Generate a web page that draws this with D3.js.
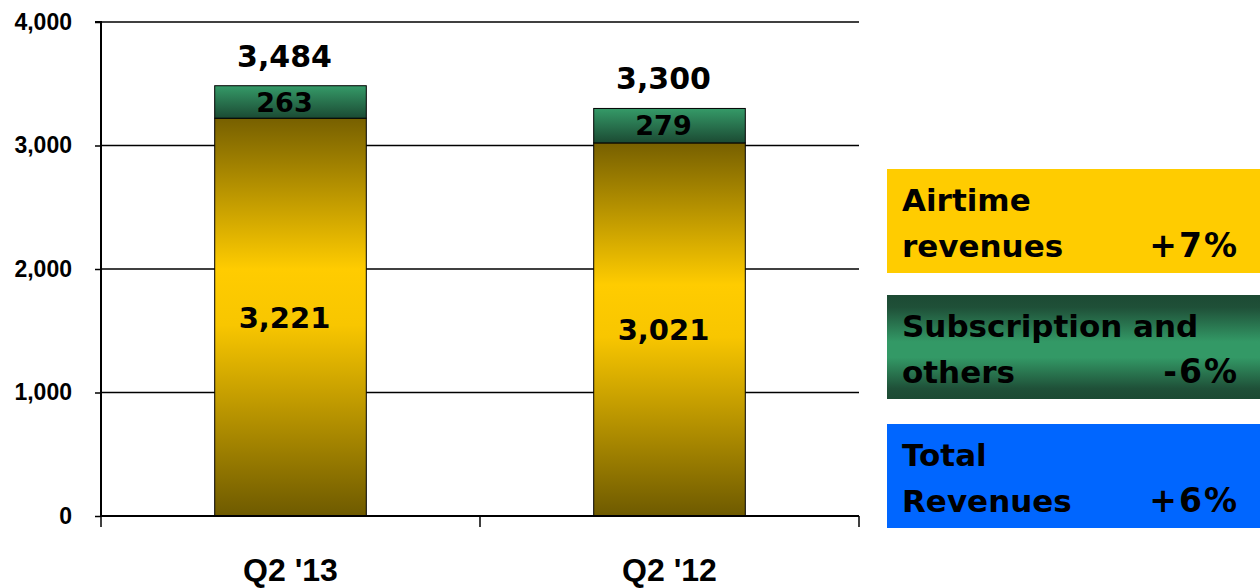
<!DOCTYPE html>
<html>
<head>
<meta charset="utf-8">
<script src="https://cdn.jsdelivr.net/npm/d3@7"></script>
<style>
  body { margin: 0; background: #fff; }
  svg { display: block; }
</style>
</head>
<body>
<svg></svg>
<script>
const categories = ["Q2 '13", "Q2 '12"];
const airtime = [3221, 3021];
const subscription = [263, 279];
const totals = [3484, 3300];
const yTicks = [0, 1000, 2000, 3000, 4000];
const legendLines = [["Airtime", "revenues"], ["Subscription and", "others"], ["Total", "Revenues"]];
const legendChanges = ["+7%", "-6%", "+6%"];

const width = 1260;
const height = 588;
const margin = { top: 22, right: 401, bottom: 72, left: 101 };

const svg = d3.select("svg")
    .attr("width", width)
    .attr("height", height);

const defs = svg.append("defs");

const gAir = defs.append("linearGradient")
    .attr("id", "gAir").attr("x1", 0).attr("y1", 0).attr("x2", 0).attr("y2", 1);
[[0, "#776000"], [0.38, "#ffcc00"], [0.52, "#f8c600"], [1, "#6e5a00"]]
    .forEach(s => gAir.append("stop").attr("offset", s[0]).attr("stop-color", s[1]));

const gSub = defs.append("linearGradient")
    .attr("id", "gSub").attr("x1", 0).attr("y1", 0).attr("x2", 0).attr("y2", 1);
[[0, "#359a68"], [1, "#1b4a33"]]
    .forEach(s => gSub.append("stop").attr("offset", s[0]).attr("stop-color", s[1]));

const gLeg = defs.append("linearGradient")
    .attr("id", "gLeg").attr("x1", 0).attr("y1", 0).attr("x2", 0).attr("y2", 1);
[[0, "#1c4a33"], [0.12, "#1f5038"], [0.45, "#339966"], [0.6, "#339966"], [0.9, "#1f5038"], [1, "#1c4a33"]]
    .forEach(s => gLeg.append("stop").attr("offset", s[0]).attr("stop-color", s[1]));

const x = d3.scaleBand()
    .domain(categories)
    .range([margin.left, width - margin.right])
    .paddingInner(0.6)
    .paddingOuter(0.3);

const y = d3.scaleLinear()
    .domain([0, 4000])
    .range([height - margin.bottom, margin.top]);

// gridlines
svg.append("g")
    .selectAll("line")
    .data(yTicks.filter(d => d > 0))
    .enter().append("line")
    .attr("x1", margin.left)
    .attr("x2", width - margin.right)
    .attr("y1", d => y(d))
    .attr("y2", d => y(d))
    .attr("stroke", "#000")
    .attr("stroke-width", 1.3);

// bars
const bars = svg.append("g");
bars.selectAll(".air")
    .data(categories)
    .enter().append("rect")
    .attr("x", d => x(d))
    .attr("width", x.bandwidth())
    .attr("y", (d, i) => y(airtime[i]))
    .attr("height", (d, i) => y(0) - y(airtime[i]))
    .attr("fill", "url(#gAir)")
    .attr("stroke", "#000")
    .attr("stroke-width", 1);

bars.selectAll(".sub")
    .data(categories)
    .enter().append("rect")
    .attr("x", d => x(d))
    .attr("width", x.bandwidth())
    .attr("y", (d, i) => y(airtime[i] + subscription[i]))
    .attr("height", (d, i) => y(airtime[i]) - y(airtime[i] + subscription[i]))
    .attr("fill", "url(#gSub)")
    .attr("stroke", "#000")
    .attr("stroke-width", 1);

// y axis
const yAxis = svg.append("g")
    .attr("transform", `translate(${margin.left},0)`)
    .call(d3.axisLeft(y).tickValues(yTicks).tickFormat(d3.format(",")).tickSize(6).tickPadding(23));
yAxis.select(".domain").attr("stroke-width", 2).attr("d", `M-6,${y(4000)}H0V${y(0)}`);
yAxis.selectAll(".tick line").attr("stroke-width", 1.5);
yAxis.selectAll("text")
    .attr("font-family", "'Liberation Sans', Arial, sans-serif")
    .attr("font-weight", "bold")
    .attr("font-size", 23)
    .attr("fill", "#000");

// x axis
const xAxis = svg.append("g")
    .attr("transform", `translate(0,${y(0)})`)
    .call(d3.axisBottom(x).tickSize(0).tickPadding(42));
xAxis.select(".domain").attr("stroke-width", 2).attr("d", `M${margin.left},0H${width - margin.right}`);
xAxis.selectAll("text")
    .attr("font-family", "'Liberation Sans', Arial, sans-serif")
    .attr("font-weight", "bold")
    .attr("font-size", 32)
    .attr("fill", "#000");

// category boundary ticks
const step = x.step();
const bounds = [margin.left, x(categories[1]) - x.paddingInner() * step / 2, width - margin.right];
xAxis.selectAll(".bound")
    .data(bounds)
    .enter().append("line")
    .attr("x1", d => d).attr("x2", d => d)
    .attr("y1", 0).attr("y2", 11)
    .attr("stroke", "#000")
    .attr("stroke-width", 1.5);

// labels
const labelFont = "'DejaVu Sans', Verdana, sans-serif";
const lx = d => x(d) + x.bandwidth() / 2 - 6;
const labels = svg.append("g")
    .attr("font-family", labelFont)
    .attr("font-weight", "bold")
    .attr("text-anchor", "middle")
    .attr("fill", "#000");

labels.selectAll(".tot")
    .data(categories)
    .enter().append("text")
    .attr("x", lx)
    .attr("y", (d, i) => y(totals[i]) - 19)
    .attr("font-size", 30)
    .text((d, i) => d3.format(",")(totals[i]));

labels.selectAll(".subv")
    .data(categories)
    .enter().append("text")
    .attr("x", lx)
    .attr("y", (d, i) => (y(airtime[i]) + y(airtime[i] + subscription[i])) / 2)
    .attr("dy", "0.36em")
    .attr("font-size", 27)
    .text((d, i) => d3.format(",")(subscription[i]));

labels.selectAll(".airv")
    .data(categories)
    .enter().append("text")
    .attr("x", lx)
    .attr("y", (d, i) => (y(0) + y(airtime[i])) / 2)
    .attr("dy", "0.36em")
    .attr("font-size", 29)
    .text((d, i) => d3.format(",")(airtime[i]));

// legend boxes
const legendFills = ["#ffcc00", "url(#gLeg)", "#0066ff"];
const boxY = [169, 295, 424];
const legend = svg.append("g");
legendLines.forEach((lines, i) => {
    const g = legend.append("g").attr("transform", `translate(887,${boxY[i]})`);
    g.append("rect")
        .attr("width", 373)
        .attr("height", 104)
        .attr("fill", legendFills[i]);
    g.selectAll("text.l")
        .data(lines)
        .enter().append("text")
        .attr("x", 15)
        .attr("y", (d, j) => 42 + j * 46)
        .attr("font-family", labelFont)
        .attr("font-weight", "bold")
        .attr("font-size", 31)
        .attr("fill", "#000")
        .text(d => d);
    g.append("text")
        .attr("x", 352)
        .attr("y", 88)
        .attr("text-anchor", "end")
        .attr("font-family", labelFont)
        .attr("font-weight", "bold")
        .attr("font-size", 33)
        .attr("letter-spacing", 2)
        .attr("fill", "#000")
        .text(legendChanges[i]);
});
</script>
</body>
</html>
